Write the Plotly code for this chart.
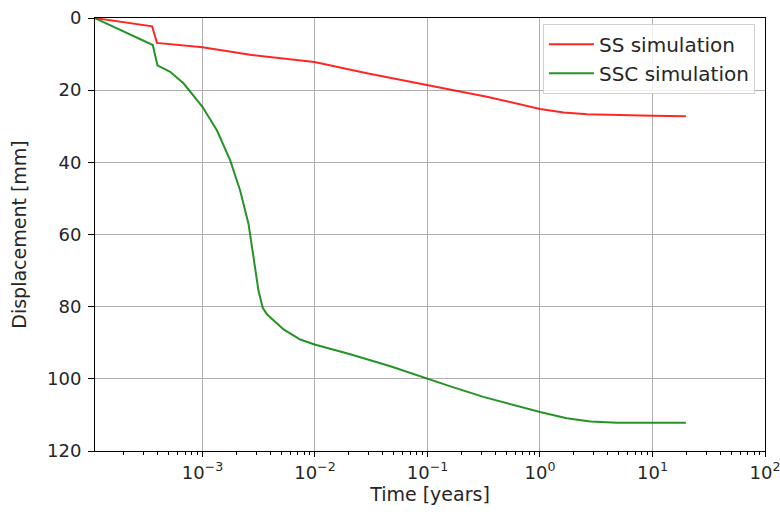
import plotly.graph_objects as go

# SS simulation (time in years, displacement in mm)
ss_time = [1.10e-4, 3.57e-4, 3.94e-4, 1.0e-3, 2.65e-3, 4.91e-3, 9.9e-3, 2.90e-2,
           9.84e-2, 0.337, 1.0, 1.62, 2.61, 5.16, 10.0, 19.8]
ss_disp = [0.0, 2.3, 6.9, 8.1, 10.2, 11.1, 12.2, 15.3,
           18.5, 21.8, 25.2, 26.2, 26.7, 27.0, 27.1, 27.2]

# SSC simulation
ssc_time = [1.10e-4, 3.62e-4, 3.98e-4, 5.16e-4, 6.78e-4, 1.0e-3, 1.343e-3,
            1.762e-3, 2.163e-3, 2.564e-3, 2.844e-3, 3.148e-3, 3.436e-3, 3.741e-3,
            5.26e-3, 7.40e-3, 9.91e-3, 2.06e-2, 4.68e-2, 9.89e-2, 0.160, 0.314,
            1.0, 1.726, 2.81, 4.85, 10.0, 19.8]
ssc_disp = [0.0, 7.5, 13.1, 14.9, 18.1, 24.6, 31.1,
            39.4, 47.8, 57.0, 66.3, 75.6, 80.3, 82.1,
            86.3, 89.1, 90.5, 93.2, 96.5, 100.0, 102.1, 105.0,
            109.2, 110.9, 111.8, 112.2, 112.2, 112.2]

xtick_vals = [1e-3, 1e-2, 1e-1, 1e0, 1e1, 1e2]
xtick_text = ["10<sup>−3</sup>", "10<sup>−2</sup>", "10<sup>−1</sup>",
              "10<sup>0</sup>", "10<sup>1</sup>", "10<sup>2</sup>"]
minor_vals = [m * 10.0 ** e for e in range(-4, 2) for m in range(2, 10)]
ytick_vals = [0, 20, 40, 60, 80, 100, 120]

fig = go.Figure()
fig.add_trace(go.Scatter(x=ss_time, y=ss_disp, mode="lines", name="SS simulation",
                         line=dict(color="rgba(255,0,0,0.85)", width=2)))
fig.add_trace(go.Scatter(x=ssc_time, y=ssc_disp, mode="lines", name="SSC simulation",
                         line=dict(color="rgba(0,128,0,0.85)", width=2)))

tick_font = dict(family="DejaVu Sans", size=18, color="#262626")
title_font = dict(family="DejaVu Sans", size=19, color="#262626")
fig.update_layout(
    width=780, height=523,
    margin=dict(l=95, r=15, t=18, b=72),
    paper_bgcolor="white", plot_bgcolor="white",
    font=tick_font,
    showlegend=True,
    legend=dict(x=0.985, y=0.987, xanchor="right", yanchor="top",
                bgcolor="rgba(255,255,255,0.8)", bordercolor="#d0d0d0", borderwidth=1,
                font=dict(family="DejaVu Sans", size=20, color="#262626"),
                itemwidth=45, tracegroupgap=2),
)
fig.update_xaxes(
    type="log", range=[-3.955, 2], automargin=False, ticklabeloverflow="allow",
    tickmode="array", tickvals=xtick_vals, ticktext=xtick_text,
    ticks="outside", ticklen=5, tickcolor="black", tickwidth=1,
    showgrid=True, gridcolor="#b0b0b0", gridwidth=1,
    showline=True, linecolor="black", linewidth=1, mirror=True,
    zeroline=False,
    minor=dict(tickmode="array", tickvals=minor_vals, ticks="outside", ticklen=3,
               tickcolor="black", showgrid=False),
    title=dict(text="Time [years]", standoff=6, font=title_font),
    tickfont=tick_font,
)
fig.update_yaxes(
    range=[120, 0], automargin=False, ticklabeloverflow="allow",
    tickmode="array", tickvals=ytick_vals,
    ticks="outside", ticklen=6, tickcolor="black", tickwidth=1,
    ticklabelstandoff=3,
    showgrid=True, gridcolor="#b0b0b0", gridwidth=1,
    showline=True, linecolor="black", linewidth=1, mirror=True,
    zeroline=False,
    title=dict(text="Displacement [mm]", standoff=15, font=title_font),
    tickfont=tick_font,
)

fig.write_html("out.html")
